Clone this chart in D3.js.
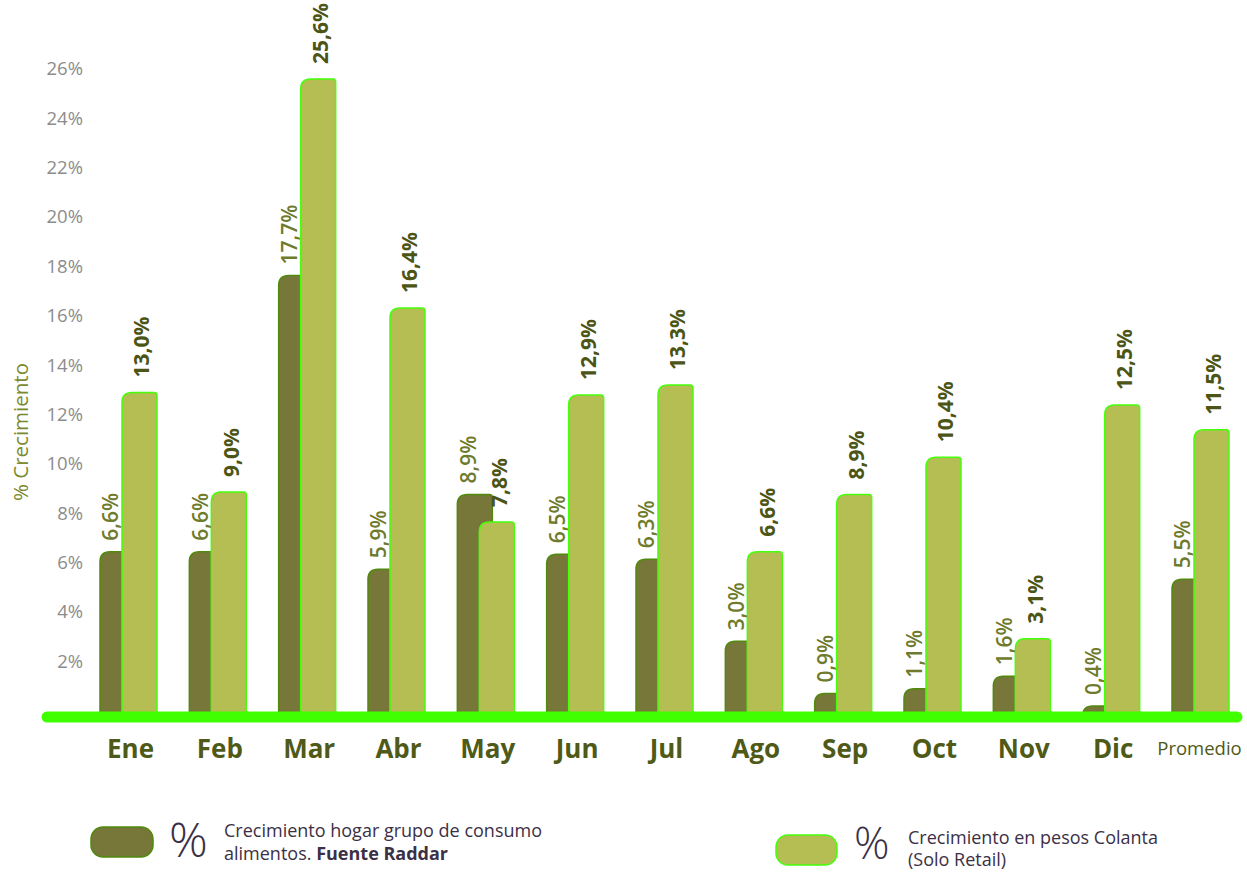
<!DOCTYPE html>
<html><head><meta charset="utf-8">
<script src="https://cdn.jsdelivr.net/npm/d3@7"></script>
<style>body{margin:0;background:#fff}svg{display:block}</style>
</head><body>
<script>
const categories = ["Ene","Feb","Mar","Abr","May","Jun","Jul","Ago","Sep","Oct","Nov","Dic","Promedio"];
const hogarValues = [6.6,6.6,17.7,5.9,8.9,6.5,6.3,3.0,0.9,1.1,1.6,0.4,5.5];
const colantaValues = [13.0,9.0,25.6,16.4,7.8,12.9,13.3,6.6,8.9,10.4,3.1,12.5,11.5];
const yTicks = [2,4,6,8,10,12,14,16,18,20,22,24,26];

const W = 1247, H = 873;
const font = "'Open Sans', 'Noto Sans', sans-serif";
const svg = d3.select("body").append("svg").attr("width", W).attr("height", H);

const x = d3.scalePoint().domain(categories).range([128.5, 1200.5]);
const y = d3.scaleLinear().domain([0, 26]).range([716, 69]);
const bw = 35;
const fmt = v => d3.format(".1f")(v).replace(".", ",") + "%";

// Y tick labels
svg.append("g").selectAll("text").data(yTicks).join("text")
  .attr("x", 83).attr("y", d => y(d) - 5.6 + d * 0.215).attr("dy", "0.35em")
  .attr("text-anchor", "end").attr("font-family", font).attr("font-size", 18.5)
  .attr("fill", "#8c8c8c").text(d => d + "%");

svg.append("text").attr("transform", "translate(28,432) rotate(-90)")
  .attr("text-anchor", "middle").attr("font-family", font).attr("font-size", 20.5)
  .attr("fill", "#7a8a2e").text("% Crecimiento");

function barPath(x0, y0, w, h, rl, rr) {
  const b = y0 + h;
  rl = Math.min(rl, h, w / 2); rr = Math.min(rr, h);
  return `M${x0},${b} V${y0 + rl} Q${x0},${y0} ${x0 + rl},${y0} H${x0 + w - rr} Q${x0 + w},${y0} ${x0 + w},${y0 + rr} V${b} Z`;
}

const y0 = y(0);
// dark bars
svg.append("g").selectAll("path").data(categories).join("path")
  .attr("d", (c, i) => barPath(x(c) - 28.5, y(hogarValues[i]), bw, y0 - y(hogarValues[i]) + 2, 10, 3))
  .attr("fill", "#78773a").attr("stroke", "#4f8a0c").attr("stroke-width", 1.5);
// light bars
svg.append("g").selectAll("path").data(categories).join("path")
  .attr("d", (c, i) => barPath(x(c) - 6.5, y(colantaValues[i]), bw, y0 - y(colantaValues[i]) + 2, 10, 3))
  .attr("fill", "#b4be52").attr("stroke", "#46ff0a").attr("stroke-width", 1.5);

// axis line
svg.append("line").attr("x1", 47).attr("x2", 1237).attr("y1", 717).attr("y2", 717)
  .attr("stroke", "#40ff00").attr("stroke-width", 11).attr("stroke-linecap", "round");

// value labels
svg.append("g").selectAll("text").data(categories).join("text")
  .attr("transform", (c, i) => `translate(${x(c) - 17.5},${y(hogarValues[i]) - 11}) rotate(-90)`)
  .attr("dy", "0.35em").attr("font-family", font).attr("font-size", 21).attr("font-weight", 600)
  .attr("fill", "#6e7a2c").text((c, i) => fmt(hogarValues[i]));
svg.append("g").selectAll("text").data(categories).join("text")
  .attr("transform", (c, i) => `translate(${x(c) + 13.5},${y(colantaValues[i]) - 15}) rotate(-90)`)
  .attr("dy", "0.35em").attr("font-family", font).attr("font-size", 21).attr("font-weight", 700)
  .attr("fill", "#4c5516").text((c, i) => fmt(colantaValues[i]));

// category labels
svg.append("g").selectAll("text").data(categories).join("text")
  .attr("x", c => x(c) + (c === "Promedio" ? -1 : 2)).attr("y", c => c === "Promedio" ? 755 : 758)
  .attr("text-anchor", "middle").attr("font-family", font)
  .attr("font-size", c => c === "Promedio" ? 18.5 : 26)
  .attr("font-weight", c => c === "Promedio" ? 400 : 700)
  .attr("fill", "#4f5a18").text(c => c);

// legend
const lg = svg.append("g").attr("font-family", font).attr("fill", "#3b3045");
lg.append("rect").attr("x", 91).attr("y", 827).attr("width", 62).attr("height", 30).attr("rx", 12)
  .attr("fill", "#78773a").attr("stroke", "#4f8a0c").attr("stroke-width", 1.5);
lg.append("text").attr("x", 169).attr("y", 857).attr("font-size", 48).attr("font-weight", 300).text("%");
const t1 = lg.append("text").attr("x", 224).attr("y", 837).attr("font-size", 18);
t1.append("tspan").attr("x", 224).text("Crecimiento hogar grupo de consumo");
t1.append("tspan").attr("x", 224).attr("dy", 23).text("alimentos. ");
t1.append("tspan").attr("font-weight", 700).text("Fuente Raddar");

lg.append("rect").attr("x", 776).attr("y", 835).attr("width", 61).attr("height", 30).attr("rx", 12)
  .attr("fill", "#b4be52").attr("stroke", "#46ff0a").attr("stroke-width", 1.5);
lg.append("text").attr("x", 854).attr("y", 859).attr("font-size", 44).attr("font-weight", 300).text("%");
const t2 = lg.append("text").attr("x", 908).attr("y", 844).attr("font-size", 18);
t2.append("tspan").attr("x", 908).text("Crecimiento en pesos Colanta");
t2.append("tspan").attr("x", 908).attr("dy", 22).text("(Solo Retail)");
</script>
</body></html>
